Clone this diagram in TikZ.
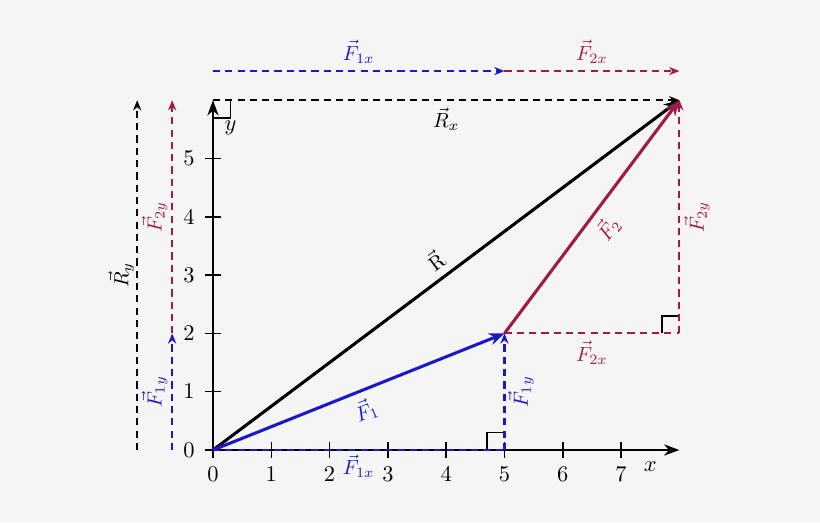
\documentclass[tikz,border=0pt]{standalone}
\usetikzlibrary{arrows.meta}
\definecolor{vblue}{RGB}{25,25,195}
\definecolor{vred}{RGB}{160,25,75}
\definecolor{bg}{RGB}{245,245,245}
\begin{document}
\begin{tikzpicture}[
  vec/.style={line width=1.5pt,-{Stealth[length=7.5pt,width=6pt]}},
  comp/.style={line width=1pt, dash pattern=on 3.5pt off 2.5pt},
  tip/.style={-{Stealth[length=5pt,width=4pt]}},
  axis/.style={line width=0.9pt,-{Stealth[length=7.5pt,width=5.5pt]}},
  rmark/.style={line width=0.9pt},
  tick/.style={line width=0.7pt},
  ticklab/.style={font=\fontsize{11}{13}\selectfont}
]
\useasboundingbox[fill=bg] (-3.653,-1.235) rectangle (10.412,7.719);
\coordinate (O) at (0,0);
\coordinate (P1) at (5,2);
\coordinate (P2) at (8,6);
\coordinate (Xe) at (8,0);
\coordinate (Ye) at (0,6);
\coordinate (F1b) at (5,0);
\coordinate (C2) at (8,2);
\coordinate (T0) at (0,6.5);
\coordinate (T1) at (5,6.5);
\coordinate (T2) at (8,6.5);
\coordinate (L0) at (-1.3,0);
\coordinate (L1) at (-1.3,6);
\coordinate (M0) at (-0.7,0);
\coordinate (M1) at (-0.7,2);
\coordinate (M2) at (-0.7,6);
% axes
\draw[axis] (O) -- (Xe);
\draw[axis] (O) -- (Ye);
\foreach \i in {0,...,7} {
  \draw[tick] (\i,-0.13) -- (\i,0.13);
  \node[ticklab] (xt\i) at (\i,-0.42) {$\i$};
}
\foreach \i in {0,...,5} {
  \draw[tick] (-0.13,\i) -- (0.13,\i);
  \node[ticklab] (yt\i) at (-0.41,\i) {$\i$};
}
\node[ticklab] (xl) at (7.5,-0.28) {$x$};
\node[ticklab] (yl) at (0.3,5.52) {$y$};
% right angle marks
\draw[rmark] (0,5.7) -- (0.3,5.7) -- (0.3,6);
\draw[rmark] (4.7,0) -- (4.7,0.3) -- (5,0.3);
\draw[rmark] (7.7,2) -- (7.7,2.3) -- (8,2.3);
% components
\draw[comp,tip] (Ye) -- (P2) node[midway,below] (lRx) {$\vec{R}_x$};
\draw[comp,tip,vblue] (T0) -- (T1) node[midway,above] (lF1xt) {$\vec{F}_{1x}$};
\draw[comp,tip,vred] (T1) -- (T2) node[midway,above] (lF2xt) {$\vec{F}_{2x}$};
\draw[comp,vblue] (O) -- (F1b);
\node[text=vblue] (lF1xb) at (2.5,-0.28) {$\vec{F}_{1x}$};
\draw[comp,tip,vblue] (F1b) -- (P1);
\node[text=vblue,rotate=90] (lF1yr) at (5.28,1.0) {$\vec{F}_{1y}$};
\draw[comp,vred] (P1) -- (C2) node[midway,below] (lF2xm) {$\vec{F}_{2x}$};
\draw[comp,tip,vred] (C2) -- (P2);
\node[text=vred,rotate=90] (lF2yr) at (8.3,4.0) {$\vec{F}_{2y}$};
% left components
\draw[comp,tip] (L0) -- (L1);
\node[rotate=90] (lRy) at (-1.57,3.0) {$\vec{R}_y$};
\draw[comp,tip,vblue] (M0) -- (M1);
\node[text=vblue,rotate=90] (lF1yl) at (-1.0,1.0) {$\vec{F}_{1y}$};
\draw[comp,tip,vred] (M1) -- (M2);
\node[text=vred,rotate=90] (lF2yl) at (-1.0,4.0) {$\vec{F}_{2y}$};
% vectors
\draw[vec] (O) -- (P2) node[midway,sloped,above] (lR) {$\vec{\mathrm{R}}$};
\draw[vec,vblue] (O) -- (P1) node[midway,sloped,below,text=vblue] (lF1) {$\vec{F}_1$};
\draw[vec,vred] (P1) -- (P2) node[midway,sloped,below,text=vred] (lF2) {$\vec{F}_2$};
\end{tikzpicture}
\end{document}
